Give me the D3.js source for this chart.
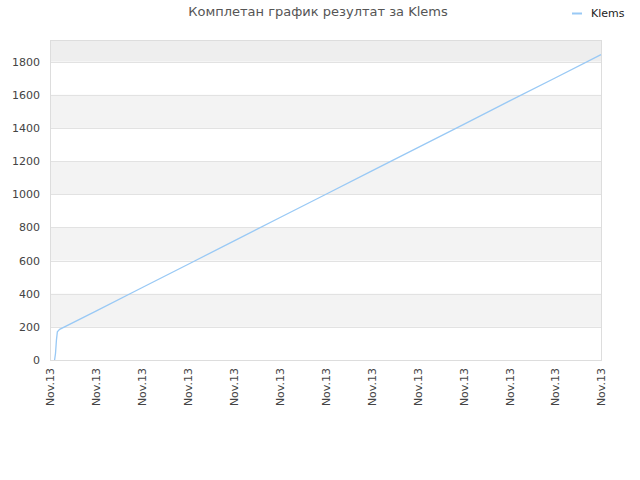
<!DOCTYPE html>
<html>
<head>
<meta charset="utf-8">
<script src="https://cdn.jsdelivr.net/npm/d3@7"></script>
<style>
body { margin: 0; background: #fff; }
text { font-family: "DejaVu Sans", sans-serif; }
</style>
</head>
<body>
<svg id="chart" width="640" height="480"></svg>
<script>
// data
var title = 'Комплетан график резултат за Klems';
var seriesName = 'Klems';
var xPos = [0.1, 0.12, 0.14, 0.16, 0.21, 1, 2, 3, 4, 5, 6, 7, 8, 9, 10, 11, 12];
var scores = [0, 40, 120, 170, 185, 295, 436, 576, 717, 858, 998, 1139, 1279, 1420, 1561, 1701, 1842];
var xTicks = [0, 1, 2, 3, 4, 5, 6, 7, 8, 9, 10, 11, 12];
var xTickLabels = ['Nov.13', 'Nov.13', 'Nov.13', 'Nov.13', 'Nov.13', 'Nov.13', 'Nov.13',
	'Nov.13', 'Nov.13', 'Nov.13', 'Nov.13', 'Nov.13', 'Nov.13'];
var yTicks = [0, 200, 400, 600, 800, 1000, 1200, 1400, 1600, 1800];
var yMax = 1930;

var svg = d3.select('#chart');
var plotLeft = 50, plotRight = 601, plotTop = 40, plotBottom = 360;

var x = d3.scaleLinear().domain([0, 12]).range([plotLeft, plotRight]);
var y = d3.scaleLinear().domain([0, yMax]).range([plotBottom, plotTop]);

// alternating bands
var bands = svg.append('g');
var edges = yTicks.concat([yMax]);
for (var i = 0; i < edges.length - 1; i++) {
	if (i % 2 == 0) continue;
	bands.append('rect')
		.attr('x', plotLeft)
		.attr('y', y(edges[i + 1]))
		.attr('width', plotRight - plotLeft)
		.attr('height', y(edges[i]) - y(edges[i + 1]))
		.style('fill', i == edges.length - 2 ? '#eeeeee' : '#f3f3f3');
}

// grid
svg.append('g').selectAll('line')
	.data(yTicks.slice(1))
	.enter().append('line')
	.attr('x1', plotLeft).attr('x2', plotRight)
	.attr('y1', function(d) { return Math.round(y(d)) + 0.5; })
	.attr('y2', function(d) { return Math.round(y(d)) + 0.5; })
	.style('stroke', '#e2e2e2');

svg.append('rect')
	.attr('x', plotLeft + 0.5).attr('y', plotTop + 0.5)
	.attr('width', plotRight - plotLeft).attr('height', plotBottom - plotTop)
	.style('fill', 'none')
	.style('stroke', '#dddddd');

// y axis labels
var yAxis = svg.append('g')
	.attr('transform', 'translate(' + (plotLeft - 10) + ',0)')
	.call(d3.axisLeft(y).tickValues(yTicks).tickSize(0).tickPadding(0)
		.tickFormat(d3.format('d')));
yAxis.select('.domain').remove();
yAxis.selectAll('text')
	.style('font-size', '11px')
	.style('fill', '#444');

// x axis labels
var xAxis = svg.append('g')
	.attr('transform', 'translate(0,' + plotBottom + ')')
	.call(d3.axisBottom(x).tickValues(xTicks).tickSize(0)
		.tickFormat(function(d, i) { return xTickLabels[i]; }));
xAxis.select('.domain').remove();
xAxis.selectAll('text')
	.style('font-size', '11px')
	.style('fill', '#444')
	.attr('text-anchor', 'end')
	.attr('transform', 'rotate(-90)')
	.attr('x', -8)
	.attr('y', 0)
	.attr('dy', '0.35em');

// line
var line = d3.line()
	.x(function(d, i) { return x(xPos[i]); })
	.y(function(d) { return y(d); });

svg.append('path')
	.datum(scores)
	.attr('d', line)
	.style('fill', 'none')
	.style('stroke', '#99c9f5')
	.style('stroke-width', 1.3);

// title
svg.append('text')
	.attr('x', 318)
	.attr('y', 16)
	.attr('text-anchor', 'middle')
	.style('font-size', '13px')
	.style('fill', '#555')
	.text(title);

// legend
svg.append('line')
	.attr('x1', 572).attr('x2', 582)
	.attr('y1', 13.5).attr('y2', 13.5)
	.style('stroke', '#99c9f5')
	.style('stroke-width', 2);
svg.append('text')
	.attr('x', 591)
	.attr('y', 17)
	.style('font-size', '11px')
	.style('fill', '#222')
	.text(seriesName);
</script>
</body>
</html>
